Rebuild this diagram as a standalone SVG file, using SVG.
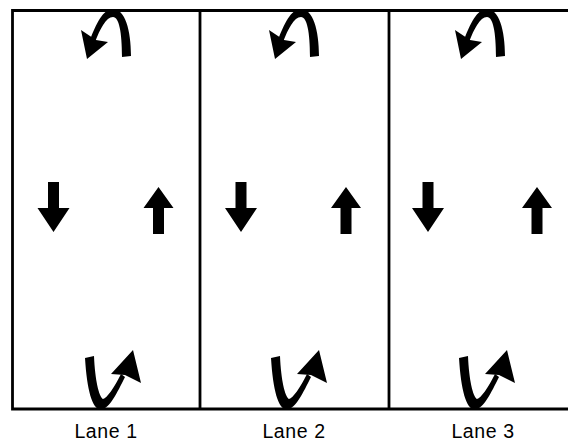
<svg xmlns="http://www.w3.org/2000/svg" xmlns:xlink="http://www.w3.org/1999/xlink" width="568" height="441" viewBox="0 0 568 441">
<style>
.frame{fill:none;stroke:#000;stroke-width:2.8}
.ink{fill:#000}
.lbl{font-family:"Liberation Sans",Arial,sans-serif;font-size:19.5px;letter-spacing:0.6px;fill:#000;text-anchor:middle}
</style>
<defs>
<g id="uturnTop">
<path class="ink" d="M131,56 C131,30 125,9 113,9 C103,9 96,24 90,40 L95,42 C100,29 106,17 113,17 C119,17 122,32 122,57 Z"/>
<polygon class="ink" points="81,30 87,59 108,42 96,40"/>
</g>
<g id="uturnBot">
<path class="ink" d="M85,358 L94,356 C95,380 99,397 103,399 C107,398 114,388 121,374 L125,377 C117,393 110,408 101,410 C92,409 87,390 85,358 Z"/>
<polygon class="ink" points="133,350 141,383 125,375 111,374"/>
</g>
<polygon id="down" class="ink" points="-5.5,182 5.5,182 5.5,208 16,208 0,232 -16,208 -5.5,208"/>
<polygon id="up" class="ink" points="-5.5,234 5.5,234 5.5,208 15,208 0,187 -15,208 -5.5,208"/>
</defs>
<g id="connectors">
<path class="frame" d="M568,10.5 L12.5,10.5 L12.5,409 L568,409 M200,10.5 L200,409 M389,10.5 L389,409"/>
</g>
<g id="lane1">
<use xlink:href="#uturnTop"/>
<use xlink:href="#uturnBot"/>
<use xlink:href="#down" x="53.5"/>
<use xlink:href="#up" x="158.5"/>
<text class="lbl" x="106" y="438">Lane 1</text>
</g>
<g id="lane2">
<use xlink:href="#uturnTop" x="188"/>
<use xlink:href="#uturnBot" x="186"/>
<use xlink:href="#down" x="241"/>
<use xlink:href="#up" x="346"/>
<text class="lbl" x="294" y="438">Lane 2</text>
</g>
<g id="lane3">
<use xlink:href="#uturnTop" x="374"/>
<use xlink:href="#uturnBot" x="374"/>
<use xlink:href="#down" x="428"/>
<use xlink:href="#up" x="537"/>
<text class="lbl" x="483" y="438">Lane 3</text>
</g>
</svg>
